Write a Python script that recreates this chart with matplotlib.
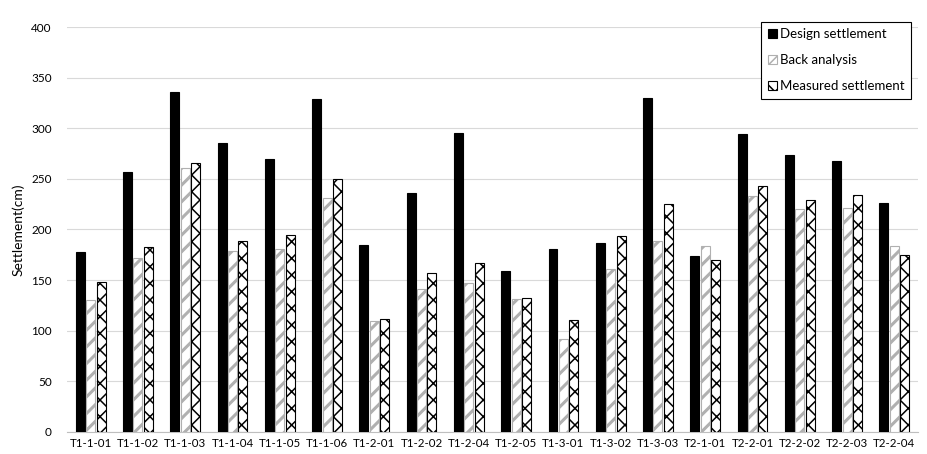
import matplotlib
matplotlib.use("Agg")
import matplotlib.pyplot as plt
import numpy as np

categories = ["T1-1-01", "T1-1-02", "T1-1-03", "T1-1-04", "T1-1-05", "T1-1-06",
              "T1-2-01", "T1-2-02", "T1-2-04", "T1-2-05", "T1-3-01", "T1-3-02",
              "T1-3-03", "T2-1-01", "T2-2-01", "T2-2-02", "T2-2-03", "T2-2-04"]
design = [178, 257, 336, 285, 270, 329, 185, 236, 295, 159, 181, 187, 330, 174, 294, 274, 268, 226]
back = [130, 172, 261, 179, 181, 231, 110, 141, 147, 131, 92, 161, 189, 184, 233, 220, 221, 184]
measured = [148, 183, 266, 189, 195, 250, 112, 157, 167, 132, 111, 194, 225, 170, 243, 229, 234, 175]
yticks = [0, 50, 100, 150, 200, 250, 300, 350, 400]

plt.rcParams['font.family'] = ['Lato', 'DejaVu Sans']

fig = plt.figure(figsize=(9.28, 4.54), dpi=100)
ax = fig.add_axes([0.0722, 0.0485, 0.917, 0.892])

x = np.arange(len(categories))
w = 0.19
off = 0.22
ax.bar(x - off, design, w, color='black', edgecolor='black', linewidth=0.8,
       label='Design settlement', zorder=3)
plt.rcParams['hatch.linewidth'] = 2.2
ax.bar(x, back, w, color='white', edgecolor='#b0b0b0', hatch='//', linewidth=0.8,
       label='Back analysis', zorder=3)
plt.rcParams['hatch.linewidth'] = 1.1
ax.bar(x + off, measured, w, color='white', edgecolor='black', hatch='xx', linewidth=0.8,
       label='Measured settlement', zorder=3)

ax.set_xlim(-0.5, len(categories) - 0.5)
ax.set_ylim(0, 400)
ax.set_yticks(yticks)
ax.set_xticks(x)
ax.set_xticklabels(categories, fontsize=8.3)
ax.tick_params(axis='y', labelsize=8.5, length=0, pad=11)
ax.tick_params(axis='x', length=0, pad=4)
ax.yaxis.grid(True, color='#d9d9d9', linewidth=0.8, zorder=0)
ax.set_axisbelow(True)
for s in ['top', 'right', 'left']:
    ax.spines[s].set_visible(False)
ax.spines['bottom'].set_color('#bfbfbf')
ax.set_ylabel('Settlement(cm)', fontsize=10, labelpad=5)

leg = fig.legend(loc='upper right', bbox_to_anchor=(0.982, 0.952), fontsize=9.5,
                 frameon=True, fancybox=False, edgecolor='black', framealpha=1,
                 handlelength=0.7, handleheight=0.7, handletextpad=0.25,
                 labelspacing=1.05, borderpad=0.5, borderaxespad=0)
leg.get_frame().set_linewidth(0.8)

fig.savefig('out.png', dpi=100)
